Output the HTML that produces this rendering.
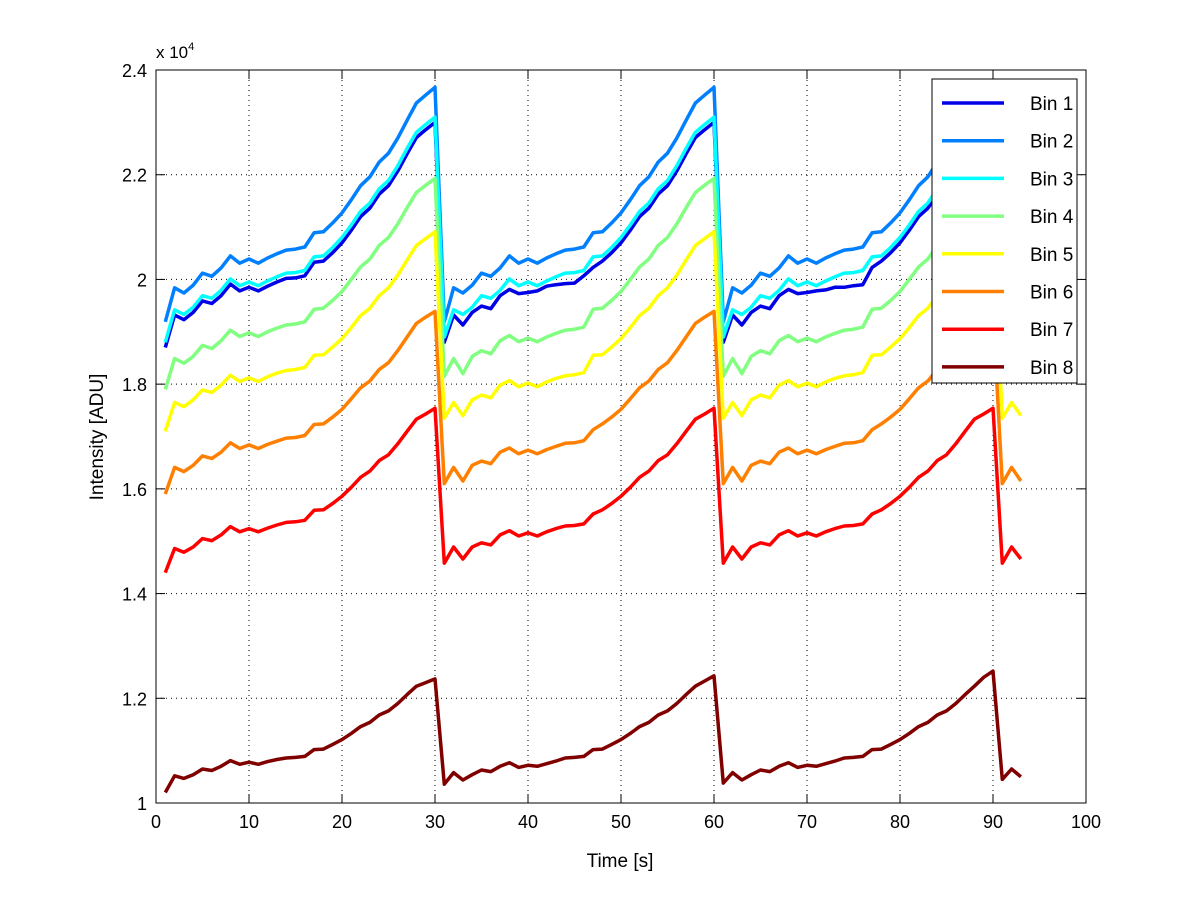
<!DOCTYPE html>
<html><head><meta charset="utf-8"><style>
body{margin:0;background:#fff;}
svg text{font-family:"Liberation Sans",sans-serif;fill:#000;}
</style></head><body>
<svg id="chart" width="1200" height="901" xmlns="http://www.w3.org/2000/svg">
<rect width="1200" height="901" fill="#fff"/>
<g id="grid"></g>
<g id="series"></g>
<g id="axes"></g>
<text x="156" y="58" font-size="17">x 10<tspan font-size="11" dy="-8">4</tspan></text>
<text x="620" y="867" font-size="19" text-anchor="middle">Time [s]</text>
<text transform="translate(103,437) rotate(-90)" font-size="19" text-anchor="middle">Intensity [ADU]</text>
<g id="legend"></g>
</svg>
<script>
const xTicks=[0,10,20,30,40,50,60,70,80,90,100];
const yTicks=[1,1.2,1.4,1.6,1.8,2,2.2,2.4];
const yTickLabels=["1","1.2","1.4","1.6","1.8","2","2.2","2.4"];
const seriesNames=["Bin 1","Bin 2","Bin 3","Bin 4","Bin 5","Bin 6","Bin 7","Bin 8"];
const seriesColors=["#0000e6","#0080ff","#00ffff","#80ff80","#ffff00","#ff8000","#ff0000","#800000"];
const bin1=[1.870,1.932,1.923,1.937,1.959,1.954,1.969,1.991,1.978,1.985,1.978,1.987,1.995,2.002,2.003,2.007,2.033,2.035,2.051,2.070,2.094,2.120,2.136,2.163,2.179,2.207,2.240,2.271,2.286,2.300,
1.880,1.932,1.913,1.937,1.949,1.944,1.969,1.981,1.973,1.975,1.978,1.987,1.990,1.992,1.993,2.007,2.023,2.035,2.051,2.070,2.094,2.120,2.136,2.163,2.179,2.207,2.240,2.271,2.286,2.300,
1.880,1.932,1.913,1.937,1.949,1.944,1.969,1.981,1.973,1.975,1.978,1.980,1.985,1.985,1.988,1.990,2.023,2.035,2.051,2.070,2.094,2.120,2.136,2.163,2.179,2.207,2.240,2.271,2.286,2.300,
1.880,1.932,1.923];
const bin2=[1.919,1.984,1.974,1.989,2.012,2.006,2.022,2.045,2.031,2.039,2.031,2.041,2.049,2.056,2.058,2.062,2.089,2.091,2.108,2.127,2.152,2.179,2.196,2.224,2.241,2.270,2.304,2.337,2.352,2.367,
1.919,1.984,1.974,1.989,2.012,2.006,2.022,2.045,2.031,2.039,2.031,2.041,2.049,2.056,2.058,2.062,2.089,2.091,2.108,2.127,2.152,2.179,2.196,2.224,2.241,2.270,2.304,2.337,2.352,2.367,
1.919,1.984,1.974,1.989,2.012,2.006,2.022,2.045,2.031,2.039,2.031,2.041,2.049,2.056,2.058,2.062,2.089,2.091,2.108,2.127,2.152,2.179,2.196,2.224,2.241,2.270,2.304,2.337,2.352,2.367,
1.919,1.984,1.974];
const bin3=[1.880,1.942,1.933,1.947,1.969,1.964,1.979,2.001,1.988,1.995,1.988,1.997,2.005,2.012,2.013,2.017,2.043,2.045,2.061,2.080,2.104,2.130,2.146,2.173,2.189,2.217,2.250,2.281,2.296,2.310,
1.890,1.942,1.933,1.947,1.969,1.964,1.979,2.001,1.988,1.995,1.988,1.997,2.005,2.012,2.013,2.017,2.043,2.045,2.061,2.080,2.104,2.130,2.146,2.173,2.189,2.217,2.250,2.281,2.296,2.310,
1.890,1.942,1.933,1.947,1.969,1.964,1.979,2.001,1.988,1.995,1.988,1.997,2.005,2.012,2.013,2.017,2.043,2.045,2.061,2.080,2.104,2.130,2.146,2.173,2.189,2.217,2.250,2.281,2.296,2.310,
1.890,1.942,1.933];
const bin4=[1.790,1.849,1.840,1.853,1.874,1.868,1.883,1.903,1.891,1.898,1.891,1.900,1.907,1.913,1.915,1.919,1.943,1.945,1.960,1.977,2.000,2.024,2.039,2.065,2.080,2.106,2.137,2.166,2.180,2.193,
1.815,1.849,1.820,1.853,1.864,1.858,1.883,1.893,1.881,1.888,1.881,1.890,1.897,1.903,1.905,1.909,1.943,1.945,1.960,1.977,2.000,2.024,2.039,2.065,2.080,2.106,2.137,2.166,2.180,2.193,
1.815,1.849,1.820,1.853,1.864,1.858,1.883,1.893,1.881,1.888,1.881,1.890,1.897,1.903,1.905,1.909,1.943,1.945,1.960,1.977,2.000,2.024,2.039,2.065,2.080,2.106,2.137,2.166,2.180,2.193,
1.815,1.849,1.820];
const bin5=[1.710,1.765,1.757,1.770,1.789,1.784,1.798,1.817,1.805,1.812,1.805,1.814,1.821,1.826,1.828,1.832,1.855,1.856,1.871,1.887,1.908,1.931,1.945,1.969,1.984,2.008,2.037,2.065,2.078,2.091,
1.735,1.765,1.740,1.770,1.779,1.774,1.798,1.807,1.795,1.802,1.795,1.804,1.811,1.816,1.818,1.822,1.855,1.856,1.871,1.887,1.908,1.931,1.945,1.969,1.984,2.008,2.037,2.065,2.078,2.091,
1.735,1.765,1.740,1.770,1.779,1.774,1.798,1.807,1.795,1.802,1.795,1.804,1.811,1.816,1.818,1.822,1.855,1.856,1.871,1.887,1.908,1.931,1.945,1.969,1.984,2.008,2.037,2.065,2.078,2.091,
1.735,1.765,1.740];
const bin6=[1.590,1.641,1.633,1.645,1.663,1.658,1.670,1.688,1.677,1.684,1.677,1.685,1.691,1.697,1.698,1.702,1.723,1.724,1.737,1.752,1.772,1.793,1.806,1.828,1.841,1.864,1.890,1.916,1.928,1.939,
1.610,1.641,1.615,1.645,1.653,1.648,1.670,1.678,1.667,1.674,1.667,1.675,1.681,1.687,1.688,1.692,1.713,1.724,1.737,1.752,1.772,1.793,1.806,1.828,1.841,1.864,1.890,1.916,1.928,1.939,
1.610,1.641,1.615,1.645,1.653,1.648,1.670,1.678,1.667,1.674,1.667,1.675,1.681,1.687,1.688,1.692,1.713,1.724,1.737,1.752,1.772,1.793,1.806,1.828,1.841,1.864,1.890,1.916,1.928,1.939,
1.610,1.641,1.615];
const bin7=[1.440,1.486,1.479,1.489,1.505,1.501,1.512,1.528,1.518,1.524,1.518,1.525,1.531,1.536,1.537,1.540,1.559,1.560,1.572,1.586,1.603,1.622,1.634,1.654,1.665,1.686,1.710,1.733,1.743,1.754,
1.458,1.489,1.466,1.489,1.497,1.493,1.512,1.520,1.510,1.516,1.510,1.518,1.524,1.529,1.530,1.533,1.552,1.560,1.572,1.586,1.603,1.622,1.634,1.654,1.665,1.686,1.710,1.733,1.743,1.754,
1.458,1.489,1.466,1.489,1.497,1.493,1.512,1.520,1.510,1.516,1.510,1.518,1.524,1.529,1.530,1.533,1.552,1.560,1.572,1.586,1.603,1.622,1.634,1.654,1.665,1.686,1.710,1.733,1.743,1.754,
1.458,1.489,1.466];
const bin8=[1.020,1.052,1.047,1.054,1.065,1.062,1.070,1.081,1.074,1.078,1.074,1.079,1.083,1.086,1.087,1.089,1.102,1.103,1.112,1.121,1.133,1.146,1.154,1.168,1.176,1.190,1.207,1.223,1.230,1.237,
1.036,1.058,1.044,1.054,1.063,1.060,1.070,1.077,1.068,1.072,1.070,1.075,1.080,1.086,1.087,1.089,1.102,1.103,1.112,1.121,1.133,1.146,1.154,1.168,1.176,1.190,1.207,1.223,1.233,1.243,
1.038,1.058,1.044,1.054,1.063,1.060,1.070,1.077,1.068,1.072,1.070,1.075,1.080,1.086,1.087,1.089,1.102,1.103,1.112,1.121,1.133,1.146,1.154,1.168,1.176,1.190,1.207,1.223,1.240,1.252,
1.045,1.065,1.050];
const times=[];for(let i=1;i<=93;i++)times.push(i);
const allSeries=[bin1,bin2,bin3,bin4,bin5,bin6,bin7,bin8];

const X0=156,X1=1086,Y0=803,Y1=70;
const xs=v=>X0+(v-0)/(100-0)*(X1-X0);
const ys=v=>Y0-(v-1)/(2.4-1)*(Y0-Y1);
const NS="http://www.w3.org/2000/svg";
function mk(tag,attrs,parent){const e=document.createElementNS(NS,tag);for(const k in attrs)e.setAttribute(k,attrs[k]);parent.appendChild(e);return e;}
const grid=document.getElementById('grid'),axes=document.getElementById('axes'),sg=document.getElementById('series'),lg=document.getElementById('legend');

xTicks.forEach((t,i)=>{
  const x=xs(t);
  if(i>0&&i<xTicks.length-1){const g=mk('line',{x1:x,x2:x,y1:Y1,y2:Y0,stroke:'#000','stroke-width':1,'stroke-dasharray':'1,4'},grid);
  
  }
  const a=mk('line',{x1:x,x2:x,y1:Y0,y2:Y0-9,stroke:'#000'},axes);
  
  
  const b=mk('line',{x1:x,x2:x,y1:Y1,y2:Y1+9,stroke:'#000'},axes);
  
  
  const l=mk('text',{x:x,y:Y0+25,'font-size':18,'text-anchor':'middle'},axes);l.textContent=String(t);
  
  
});
yTicks.forEach((t,i)=>{
  const y=ys(t);
  if(i>0&&i<yTicks.length-1){const g=mk('line',{x1:X0,x2:X1,y1:y,y2:y,stroke:'#000','stroke-width':1,'stroke-dasharray':'1,4'},grid);
  
  }
  const a=mk('line',{x1:X0,x2:X0+9,y1:y,y2:y,stroke:'#000'},axes);
  
  
  const b=mk('line',{x1:X1,x2:X1-9,y1:y,y2:y,stroke:'#000'},axes);
  
  
  const l=mk('text',{x:X0-9,y:y+7,'font-size':18,'text-anchor':'end'},axes);l.textContent=yTickLabels[i];
  
  
});
const box=mk('rect',{x:X0,y:Y1,width:X1-X0,height:Y0-Y1,fill:'none',stroke:'#000','stroke-width':1},axes);



allSeries.forEach((s,k)=>{
  const d=s.map((v,i)=>(i?'L':'M')+xs(times[i]).toFixed(1)+','+ys(v).toFixed(1)).join(' ');
  const p=mk('path',{d:d,fill:'none',stroke:seriesColors[k],'stroke-width':3.5,'stroke-linejoin':'round'},sg);
  
  
});

const lb=mk('rect',{x:932,y:79,width:145,height:304,fill:'#fff',stroke:'#000','stroke-width':1},lg);


seriesNames.forEach((n,k)=>{
  const y=103+k*37.7;
  const ln=mk('line',{x1:942,x2:1004,y1:y,y2:y,stroke:seriesColors[k],'stroke-width':3.5},lg);
  
  
  const t=mk('text',{x:1030,y:y+7,'font-size':19},lg);t.textContent=n;
  
  
});
</script>
</body></html>
